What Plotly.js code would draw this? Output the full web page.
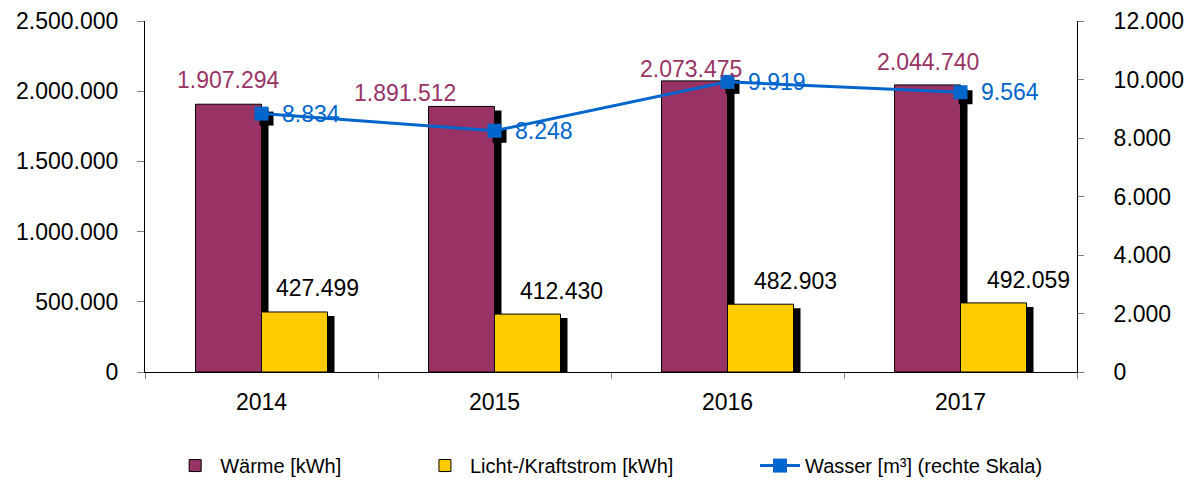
<!DOCTYPE html>
<html>
<head>
<meta charset="utf-8">
<script src="https://cdn.plot.ly/plotly-3.0.1.min.js"></script>
<style>html,body{margin:0;padding:0;background:#fff;}#chart{width:1188px;height:485px;}</style>
</head>
<body>
<div id="chart"></div>
<script>
// ---- data ----
const categories = ['2014', '2015', '2016', '2017'];
const waerme = [1907294, 1891512, 2073475, 2044740];
const licht = [427499, 412430, 482903, 492059];
const wasser = [8834, 8248, 9919, 9564];
const leftTicks = [0, 500000, 1000000, 1500000, 2000000, 2500000];
const rightTicks = [0, 2000, 4000, 6000, 8000, 10000, 12000];
const seriesNames = ['Wärme [kWh]', 'Licht-/Kraftstrom [kWh]', 'Wasser [m³] (rechte Skala)'];

// ---- style / geometry ----
const W = 1188, H = 485;
const M = {l: 145, r: 111, t: 21, b: 113, autoexpand: false};
const plotW = W - M.l - M.r, plotH = H - M.t - M.b;
const xUnitPerPx = categories.length / plotW;
const leftMax = leftTicks[leftTicks.length - 1];
const rightMax = rightTicks[rightTicks.length - 1];
const barW = 66 * xUnitPerPx;
const shadowDx = 7 * xUnitPerPx;
const shadowDyL = 4 * leftMax / plotH;
const mShadowDx = 5 * xUnitPerPx;
const mShadowDy = 5 * rightMax / plotH;
const font = 'Liberation Sans, Arial, sans-serif';
const cW = '#993366', cL = '#FFCC00', cB = '#0066CC';
function de(v) { return String(Math.round(v)).replace(/\B(?=(\d{3})+(?!\d))/g, '.'); }

// label nudges (px)
const wLabDx = [0, -57, -4, 0], wLabDy = [24, 13, 12, 23];
const lLabDx = [23, 34, 35, 35], lLabDy = [24, 23, 23, 23];
const legendX = [0.027, 0.295, 0.6545];

const idx = categories.map((c, i) => i);
const bounds = [-0.5].concat(idx.map(i => i + 0.5));

const data = [
  {type: 'bar', x: idx, y: waerme.map(v => v - shadowDyL), offset: -barW + shadowDx, width: barW,
   marker: {color: '#000'}, showlegend: false, hoverinfo: 'skip'},
  {type: 'bar', name: seriesNames[0], legend: 'legend', x: idx, y: waerme, offset: -barW, width: barW,
   marker: {color: cW, line: {color: '#000', width: 1}}},
  {type: 'bar', x: idx, y: licht.map(v => v - shadowDyL), offset: shadowDx, width: barW,
   marker: {color: '#000'}, showlegend: false, hoverinfo: 'skip'},
  {type: 'bar', name: seriesNames[1], legend: 'legend2', x: idx, y: licht, offset: 0, width: barW,
   marker: {color: cL, line: {color: '#000', width: 1}}},
  {type: 'scatter', mode: 'markers', x: idx.map(i => i + mShadowDx), y: wasser.map(v => v - mShadowDy),
   xaxis: 'x2', yaxis: 'y2', marker: {symbol: 'square', size: 14, color: '#000'},
   showlegend: false, hoverinfo: 'skip'},
  {type: 'scatter', mode: 'lines+markers', name: seriesNames[2], legend: 'legend3', x: idx, y: wasser,
   xaxis: 'x2', yaxis: 'y2', line: {color: cB, width: 3},
   marker: {symbol: 'square', size: 14, color: cB}}
];

const annotations = [];
idx.forEach(i => {
  annotations.push({xref: 'x', yref: 'y', x: i - barW / 2, y: waerme[i], text: de(waerme[i]),
    showarrow: false, xanchor: 'center', yanchor: 'middle', xshift: wLabDx[i], yshift: wLabDy[i],
    font: {family: font, size: 23, color: cW}});
  annotations.push({xref: 'x', yref: 'y', x: i + barW / 2, y: licht[i], text: de(licht[i]),
    showarrow: false, xanchor: 'center', yanchor: 'middle', xshift: lLabDx[i], yshift: lLabDy[i],
    font: {family: font, size: 23, color: '#000'}});
  annotations.push({xref: 'x2', yref: 'y2', x: i, y: wasser[i], text: de(wasser[i]),
    showarrow: false, xanchor: 'left', yanchor: 'middle', xshift: 18, yshift: 0,
    font: {family: font, size: 23, color: cB}});
});

const tickFont = {family: font, size: 23, color: '#000'};
const xr = [-0.5, categories.length - 0.5];
function legendAt(x) {
  return {orientation: 'h', x: x, xanchor: 'left', y: -0.211, yanchor: 'top',
    font: {family: font, size: 20, color: '#000'}, bgcolor: 'rgba(0,0,0,0)', itemwidth: 40};
}
const layout = {
  width: W, height: H,
  margin: M,
  paper_bgcolor: '#fff', plot_bgcolor: '#fff',
  separators: ',.',
  barmode: 'overlay',
  showlegend: true,
  font: {family: font, color: '#000'},
  xaxis: {range: xr, tickmode: 'array', tickvals: bounds, ticktext: bounds.map(() => ''),
    ticks: 'outside', ticklen: 6, tickcolor: '#808080', showline: true, linecolor: '#000', linewidth: 1,
    showgrid: false, zeroline: false, fixedrange: true},
  xaxis2: {range: xr, overlaying: 'x', anchor: 'y', side: 'bottom', tickmode: 'array', tickvals: idx,
    ticktext: categories, ticks: '', showline: false, showgrid: false, zeroline: false,
    tickfont: tickFont, ticklabelstandoff: 14, fixedrange: true},
  xaxis3: {range: xr, overlaying: 'x', anchor: 'y', tickmode: 'array', tickvals: bounds,
    ticks: 'inside', ticklen: 6, tickcolor: '#808080', showticklabels: false, showline: false,
    showgrid: false, zeroline: false},
  yaxis: {range: [0, leftMax], tickmode: 'array', tickvals: leftTicks, ticktext: leftTicks.map(de),
    ticks: 'outside', ticklen: 7, tickcolor: '#808080', showline: true, linecolor: '#000', linewidth: 1,
    showgrid: false, zeroline: false, tickfont: tickFont, ticklabelstandoff: 14, fixedrange: true},
  yaxis3: {range: [0, leftMax], overlaying: 'y', anchor: 'x', side: 'left', tickmode: 'array',
    tickvals: leftTicks.slice(1, -1), showgrid: true, gridcolor: '#BFBFBF', gridwidth: 1,
    ticks: '', showticklabels: false, showline: false, zeroline: false},
  yaxis2: {range: [0, rightMax], overlaying: 'y', anchor: 'x', side: 'right', tickmode: 'array',
    tickvals: rightTicks, ticktext: rightTicks.map(de), ticks: 'outside', ticklen: 6, tickcolor: '#808080',
    showline: true, linecolor: '#000', linewidth: 1, showgrid: false, zeroline: false,
    tickfont: tickFont, ticklabelstandoff: 25, fixedrange: true},
  yaxis4: {range: [0, rightMax], overlaying: 'y', anchor: 'x', side: 'right', tickmode: 'array',
    tickvals: rightTicks, ticks: 'inside', ticklen: 6, tickcolor: '#808080', showticklabels: false,
    showline: false, showgrid: false, zeroline: false},
  legend: legendAt(legendX[0]),
  legend2: legendAt(legendX[1]),
  legend3: legendAt(legendX[2]),
  annotations: annotations
};

Plotly.newPlot('chart', data, layout, {displayModeBar: false, staticPlot: true});
</script>
</body>
</html>
